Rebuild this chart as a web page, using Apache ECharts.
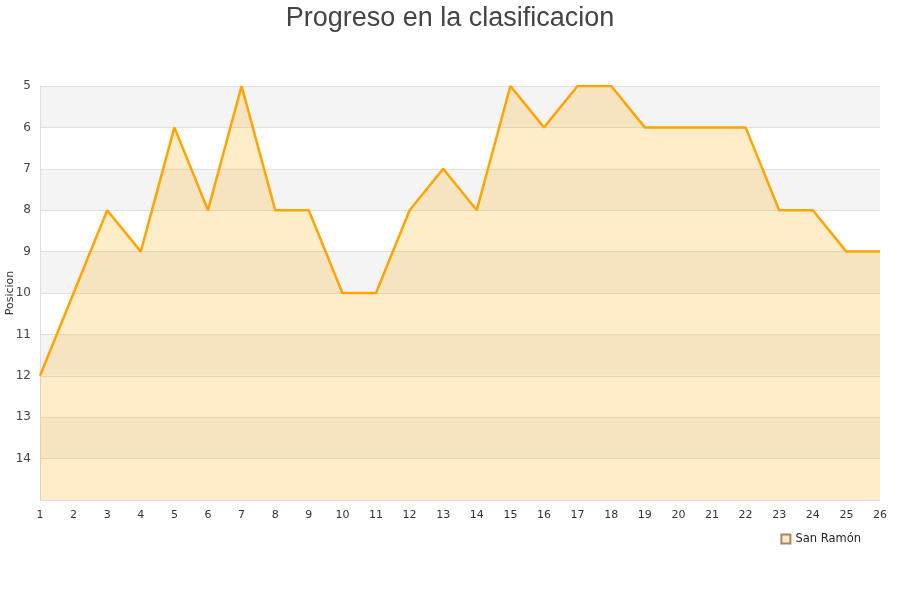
<!DOCTYPE html>
<html><head><meta charset="utf-8">
<script src="https://cdn.jsdelivr.net/npm/echarts@6/dist/echarts.min.js"></script>
<style>html,body{margin:0;padding:0;background:#fff}#c{width:900px;height:600px}</style>
</head><body><div id="c"></div>
<script>
const jornadas = ['1','2','3','4','5','6','7','8','9','10','11','12','13','14','15','16','17','18','19','20','21','22','23','24','25','26'];
const posiciones = [12,10,8,9,6,8,5,8,8,10,10,8,7,8,5,6,5,5,6,6,6,6,8,8,9,9];
const serieNombre = 'San Ramón';
const chart = echarts.init(document.getElementById('c'));
chart.setOption({
  animation:false,
  title:{text:'Progreso en la clasificacion',left:'center',top:0,textStyle:{fontFamily:'Liberation Sans, Arial, sans-serif',fontSize:27,fontWeight:'normal',color:'#444'}},
  legend:{data:[{name:serieNombre,icon:'rect'}],right:34,top:528,itemWidth:9,itemHeight:9,itemGap:8,
    textStyle:{fontFamily:'DejaVu Sans',fontSize:11.5,color:'#222'}},
  grid:{left:40,right:20,top:86,bottom:100,containLabel:false,outerBoundsMode:'none'},
  xAxis:{type:'category',data:jornadas,boundaryGap:false,
    axisLine:{lineStyle:{color:'#ddd'}},axisTick:{show:false},
    axisLabel:{fontFamily:'DejaVu Sans',fontSize:11,color:'#333',margin:10},
    splitLine:{show:false}},
  yAxis:{type:'value',inverse:true,min:5,max:15,interval:1,name:'Posicion',nameLocation:'middle',nameGap:24,nameMoveOverlap:false,
    nameTextStyle:{fontFamily:'DejaVu Sans',fontSize:11,color:'#333'},
    axisLine:{show:true,lineStyle:{color:'#ddd'}},axisTick:{show:false},
    axisLabel:{fontFamily:'DejaVu Sans',fontSize:12,color:'#444',margin:9,showMaxLabel:false},
    splitLine:{show:true,lineStyle:{color:'#e0e0e0'}},
    splitArea:{show:true,areaStyle:{color:['#f4f4f4','#ffffff']}}},
  series:[{name:serieNombre,type:'line',data:posiciones,showSymbol:false,symbol:'none',
    lineStyle:{color:'#ffa500',width:2.5},itemStyle:{color:'#fde9c5',borderColor:'#a08a6a',borderWidth:1},
    areaStyle:{color:'rgba(255,165,0,0.21)',opacity:1,origin:'end'}}]
});
</script></body></html>
